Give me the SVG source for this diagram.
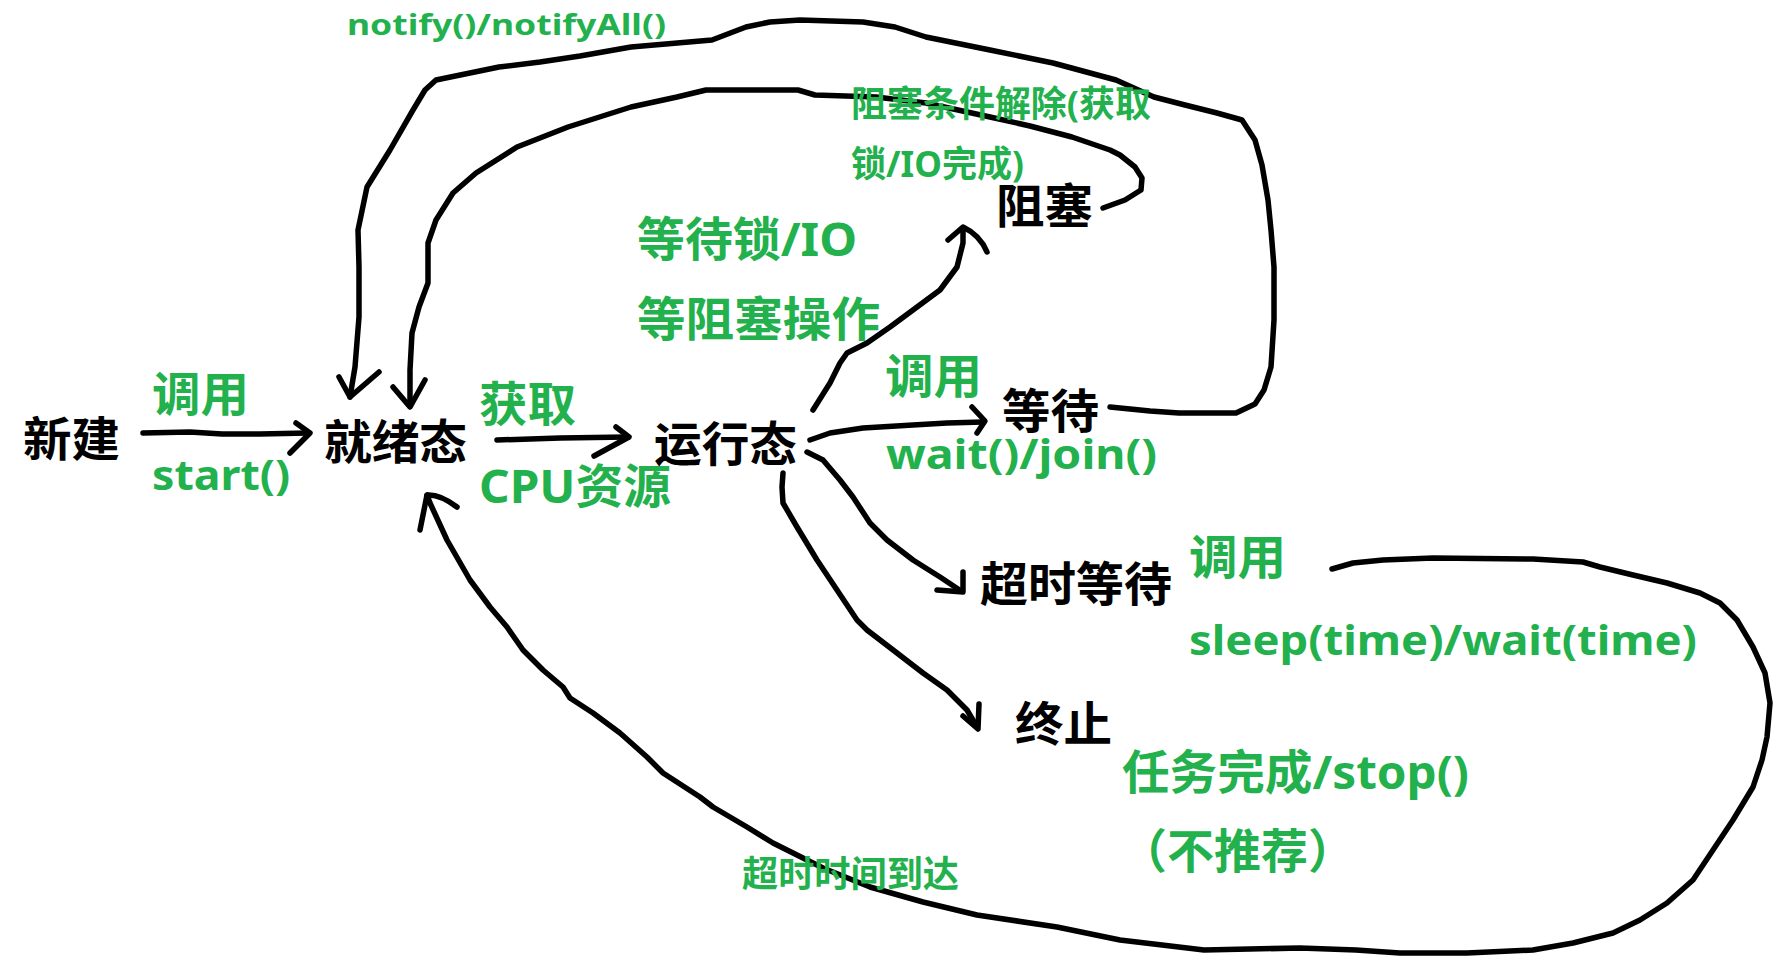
<svg xmlns="http://www.w3.org/2000/svg" width="1791" height="967" viewBox="0 0 1791 967">
<style>
.ln{fill:none;stroke:#000;stroke-width:5.5;stroke-linecap:round;stroke-linejoin:round}
.st{font-family:"Noto Sans","Noto Sans CJK SC",sans-serif;font-weight:bold;fill:#000;font-size:47px}
.lb{font-family:"Noto Sans","Noto Sans CJK SC",sans-serif;font-weight:bold;fill:#22b14c;font-size:47px}
.sm{font-size:36px}
.lat{font-size:42px}
</style>
<rect width="1791" height="967" fill="#fff"/>
<g id="connectors">
<path class="ln" d="M143,433 L190,432 L222,434 L260,434 L308,433"/>
<path class="ln" d="M296,423 L310,433 L290,453"/>
<path class="ln" d="M497,440 L560,438 L628,437"/>
<path class="ln" d="M616,427 L629,437 L594,456"/>
<path class="ln" d="M1110,407 L1150,411 L1179,413 L1236,413 L1255,404 L1264,390 L1271,367 L1274,320 L1274,267 L1271,230 L1268,200 L1262,165 L1255,140 L1242,120 L1217,113 L1185,105 L1154,97 L1116,80 L1053,63 L990,50 L926,37 L895,27 L863,22 L800,20 L770,22 L746,27 L712,40 L631,47 L580,56 L540,62 L499,67 L436,80 L425,90 L413,110 L390,150 L367,187 L358,230 L359,267 L359,317 L355,367 L350,397"/>
<path class="ln" d="M339,377 L350,397 L379,372"/>
<path class="ln" d="M1103,208 L1125,200 L1141,190 L1142,178 L1135,167 L1120,155 L1110,150 L1072,137 L1030,126 L990,117 L926,103 L876,97 L815,95 L798,90 L740,90 L706,90 L677,97 L631,107 L568,127 L517,147 L476,173 L453,193 L436,220 L428,243 L428,283 L419,307 L412,333 L410,370 L410,405"/>
<path class="ln" d="M393,387 L410,407 L425,380"/>
<path class="ln" d="M813,410 L830,383 L840,363 L847,353 L867,343 L890,327 L913,310 L940,290 L957,267 L963,243 L963,228"/>
<path class="ln" d="M948,240 L963,227 Q980,235 987,252"/>
<path class="ln" d="M810,440 L830,433 L863,428 L913,425 L947,423 L983,422"/>
<path class="ln" d="M972,407 L985,421 L977,433"/>
<path class="ln" d="M807,452 L823,460 L840,480 L853,497 L870,523 L887,540 L913,560 L940,577 L961,591"/>
<path class="ln" d="M937,590 L963,592 L963,572"/>
<path class="ln" d="M783,473 L782,487 L783,503 L797,527 L817,560 L837,590 L857,620 L867,630 L897,653 L923,673 L947,690 L967,710 L977,727"/>
<path class="ln" d="M963,716 L978,729 L979,704"/>
<path class="ln" d="M1332,569 L1353,563 L1383,560 L1433,558 L1533,559 L1583,562 L1600,567 L1633,575 L1667,583 L1700,593 L1720,603 L1737,620 L1753,647 L1765,673 L1770,703 L1767,737 L1762,760 L1753,787 L1733,820 L1713,850 L1693,880 L1667,903 L1640,920 L1613,933 L1573,943 L1533,950 L1467,953 L1400,953 L1356,950 L1300,948 L1204,950 L1120,940 L1057,927 L977,915 L923,902 L870,887 L823,868 L807,860 L773,843 L747,827 L713,807 L700,797 L663,773 L647,757 L620,733 L593,713 L570,698 L563,687 L543,670 L523,650 L507,627 L490,607 L470,580 L447,540 L430,503 L427,495"/>
<path class="ln" d="M420,530 L427,495 Q440,494 457,507"/>
</g>
<g id="labels">
<text class="lb" x="347" y="35" style="font-size:28px" textLength="319" lengthAdjust="spacingAndGlyphs">notify()/notifyAll()</text>
<text class="lb" x="152" y="411" textLength="97" lengthAdjust="spacingAndGlyphs">调用</text>
<text class="lb lat" x="152" y="490" textLength="138" lengthAdjust="spacingAndGlyphs">start()</text>
<text class="lb" x="479" y="421" textLength="97" lengthAdjust="spacingAndGlyphs">获取</text>
<text class="lb" x="479" y="503" textLength="192" lengthAdjust="spacingAndGlyphs">CPU资源</text>
<text class="lb" x="637" y="256" textLength="220" lengthAdjust="spacingAndGlyphs">等待锁/IO</text>
<text class="lb" x="637" y="336" textLength="243" lengthAdjust="spacingAndGlyphs">等阻塞操作</text>
<text class="lb sm" x="851" y="117" textLength="300" lengthAdjust="spacingAndGlyphs">阻塞条件解除(获取</text>
<text class="lb sm" x="851" y="177" textLength="173" lengthAdjust="spacingAndGlyphs">锁/IO完成)</text>
<text class="lb" x="885" y="393" textLength="97" lengthAdjust="spacingAndGlyphs">调用</text>
<text class="lb lat" x="886" y="469" textLength="271" lengthAdjust="spacingAndGlyphs">wait()/join()</text>
<text class="lb" x="1189" y="574" textLength="97" lengthAdjust="spacingAndGlyphs">调用</text>
<text class="lb lat" x="1189" y="655" textLength="508" lengthAdjust="spacingAndGlyphs">sleep(time)/wait(time)</text>
<text class="lb" x="1122" y="789" textLength="347" lengthAdjust="spacingAndGlyphs">任务完成/stop()</text>
<text class="lb" x="1120" y="868">（不推荐）</text>
<text class="lb sm" x="742" y="887" textLength="217" lengthAdjust="spacingAndGlyphs">超时时间到达</text>
</g>
<g id="node-new"><text class="st" x="23" y="456" textLength="97" lengthAdjust="spacingAndGlyphs">新建</text></g>
<g id="node-ready"><text class="st" x="324" y="459" textLength="143" lengthAdjust="spacingAndGlyphs">就绪态</text></g>
<g id="node-running"><text class="st" x="654" y="461" textLength="143" lengthAdjust="spacingAndGlyphs">运行态</text></g>
<g id="node-blocked"><text class="st" x="996" y="223" textLength="97" lengthAdjust="spacingAndGlyphs">阻塞</text></g>
<g id="node-waiting"><text class="st" x="1002" y="428" textLength="97" lengthAdjust="spacingAndGlyphs">等待</text></g>
<g id="node-timed-waiting"><text class="st" x="980" y="601" textLength="192" lengthAdjust="spacingAndGlyphs">超时等待</text></g>
<g id="node-terminated"><text class="st" x="1015" y="741" textLength="97" lengthAdjust="spacingAndGlyphs">终止</text></g>
</svg>
